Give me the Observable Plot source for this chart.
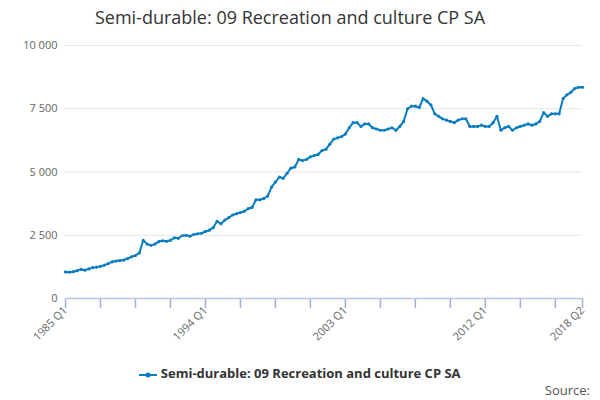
<!DOCTYPE html>
<html><head><meta charset="utf-8">
<script src="https://cdn.jsdelivr.net/npm/d3@7"></script>
<script src="https://cdn.jsdelivr.net/npm/@observablehq/plot@0.6"></script>
<style>
body{margin:0;font-family:"Open Sans",sans-serif;background:#fff;width:600px;height:400px;position:relative;overflow:hidden}
#title{position:absolute;top:5px;left:0;width:580px;text-align:center;font-size:18px;color:#333}
#chart{position:absolute;top:36px;left:0}
#legend{position:absolute;top:364px;left:0;width:600px;text-align:center;font-size:13px;font-weight:bold;color:#333}
#source{position:absolute;top:381px;right:10px;font-size:13px;color:#555}
</style></head><body>
<div id="title">Semi-durable: 09 Recreation and culture CP SA</div>
<div id="chart"></div>
<div id="legend"><svg width="18" height="10" style="vertical-align:middle"><line x1="0" y1="5" x2="18" y2="5" stroke="#0a7cc1" stroke-width="2"/><circle cx="9" cy="5" r="2.5" fill="#0a7cc1"/></svg> Semi-durable: 09 Recreation and culture CP SA</div>
<div id="source">Source:</div>
<script>
const values = [1050,1040,1060,1100,1150,1120,1170,1220,1240,1270,1320,1380,1450,1480,1500,1520,1580,1650,1700,1800,
2300,2150,2100,2150,2250,2280,2260,2300,2400,2380,2480,2500,2460,2530,2560,2580,
2650,2700,2800,3050,2950,3100,3200,3300,3350,3400,3450,3550,3600,3900,3900,3950,4050,4400,4600,4800,4750,4950,5150,5200,5500,5450,5500,5600,5650,5700,5850,5900,6100,6300,6350,6400,
6500,6750,6950,6950,6800,6900,6900,6750,6700,6650,6650,6700,6750,6650,6800,7000,7500,7600,7600,7550,7900,7800,7650,7300,7200,7100,7050,7000,6950,7050,7100,7100,6800,6800,6800,6850,
6800,6800,6950,7200,6650,6750,6800,6650,6750,6800,6850,6900,6850,6900,7000,7350,7200,7300,7300,7300,7900,8050,8150,8300,8350,8350];
const startYear = 1985;
const tickIdx = [0,36,72,108,133];
const yTicks = [0,2500,5000,7500,10000];
const data = values.map((v,i)=>({i,v}));
const qLabel = i => `${startYear+Math.floor(i/4)} Q${i%4+1}`;
const minor = d3.range(0,134,9).concat([133]);
const color = "#0a7cc1";
const chart = Plot.plot({
  width:600,height:319,marginLeft:65,marginRight:18,marginTop:9,marginBottom:57,
  style:{fontFamily:"Open Sans",fontSize:"11px",color:"#666"},
  x:{domain:[0,133],label:null,axis:null},
  y:{domain:[0,10000],label:null,axis:null},
  marks:[
    Plot.gridY(yTicks,{stroke:"#e6e6e6",strokeOpacity:1}),
    Plot.axisY(yTicks,{tickFormat:d=>d3.format(",")(d).replace(","," "),tickSize:0,tickPadding:8,fill:"#666"}),
    Plot.tickX(minor,{x:d=>d,insetTop:253,insetBottom:-10,stroke:"#9fb0d8",strokeWidth:1.5,strokeOpacity:1}),
    Plot.axisX(tickIdx,{tickFormat:qLabel,tickRotate:-45,tickSize:0,tickPadding:10,fill:"#666"}),
    Plot.ruleY([0],{stroke:"#b8c6e4",strokeWidth:1.5}),
    Plot.line(data,{x:"i",y:"v",stroke:color,strokeWidth:2}),
    Plot.dot(data,{x:"i",y:"v",fill:color,r:1.6})
  ]
});
document.getElementById("chart").append(chart);
</script></body></html>
